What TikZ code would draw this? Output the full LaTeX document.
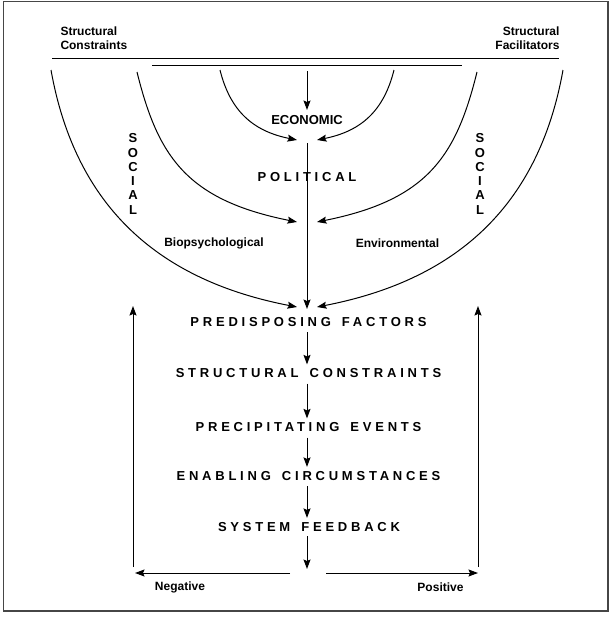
\documentclass[tikz,border=0pt]{standalone}
\usepackage{fontspec}
\setmainfont{Liberation Sans}
\newfontfamily\spacedfont[LetterSpace=29,WordSpace=1.5,BoldFont={Liberation Sans Bold}]{Liberation Sans}
\usetikzlibrary{arrows.meta}
\begin{document}
\begin{tikzpicture}[x=1pt,y=-1pt, line width=1pt,
  arr/.style={-{Stealth[length=9.5pt,width=7pt,inset=1.5pt]}},
  lbl/.style={font=\fontsize{12}{14}\selectfont\bfseries, inner sep=0pt},
  big/.style={font=\fontsize{13}{15}\spacedfont\bfseries, inner sep=0pt},
  eco/.style={font=\fontsize{13}{15}\selectfont\bfseries, inner sep=0pt},
  vert/.style={font=\fontsize{13}{14.3}\selectfont\bfseries, inner sep=0pt, align=center},
  chain/.style={arr, shorten <=5pt, shorten >=4pt}]
\useasboundingbox (0,0) rectangle (613,622);
\draw[gray!55!black, line width=1.4pt] (3.5,1.5) rectangle (608,611);

% top labels and lines
\node[lbl, align=left, anchor=west] (sclab) at (60,38) {Structural\\Constraints};
\node[lbl, align=right, anchor=east] (sflab) at (560,38) {Structural\\Facilitators};
\coordinate (t1) at (52,58);  \coordinate (t2) at (559,58);
\coordinate (u1) at (152,65); \coordinate (u2) at (462,65);
\draw (t1) -- (t2);
\draw (u1) -- (u2);

% center flow
\coordinate (e0) at (307,71);
\coordinate (e1) at (307,110);
\draw[arr] (e0) -- (e1);
\node[eco] (eco) at (307,120) {ECONOMIC};
\coordinate (m0) at (307,143);
\coordinate (m1) at (307,309);
\draw[arr] (m0) -- (m1);
\node[big] (pol) at (307,177) {POLITICAL};

% inner arcs
\coordinate (il0) at (220,70); \coordinate (il1) at (297,140);
\coordinate (ir0) at (394,70); \coordinate (ir1) at (317,140);
\draw[arr] (il0) .. controls (230,110) and (252,131) .. (il1);
\draw[arr] (ir0) .. controls (384,110) and (362,131) .. (ir1);

% middle arcs
\coordinate (ml0) at (137,72); \coordinate (ml1) at (297,222);
\coordinate (mr0) at (477,72); \coordinate (mr1) at (317,222);
\draw[arr] (ml0) .. controls (158,157) and (187,200) .. (ml1);
\draw[arr] (mr0) .. controls (456,157) and (427,200) .. (mr1);

% outer arcs
\coordinate (ol0) at (51,70); \coordinate (ol1) at (297,307);
\coordinate (or0) at (563,70); \coordinate (or1) at (317,307);
\draw[arr] (ol0) .. controls (76,210) and (162,281) .. (ol1);
\draw[arr] (or0) .. controls (538,210) and (452,281) .. (or1);

\node[vert] (socl) at (133,174) {S\\O\\C\\I\\A\\L};
\node[vert] (socr) at (480,174) {S\\O\\C\\I\\A\\L};
\node[lbl] (bio) at (214,243) {Biopsychological};
\node[lbl] (env) at (397.5,243) {Environmental};

% chain
\node[big] (pf) at (308.5,322) {PREDISPOSING FACTORS};
\node[big] (sc) at (308.5,373.5) {STRUCTURAL CONSTRAINTS};
\node[big] (pe) at (308.5,427.5) {PRECIPITATING EVENTS};
\node[big] (ec) at (308.5,476) {ENABLING CIRCUMSTANCES};
\node[big] (sf) at (309,527) {SYSTEM FEEDBACK};
\coordinate (fb) at (307,569);
\draw[chain] (pf.south -| m0) -- (sc.north -| m0);
\draw[chain] (sc.south -| m0) -- (pe.north -| m0);
\draw[chain] (pe.south -| m0) -- (ec.north -| m0);
\draw[chain] (ec.south -| m0) -- (sf.north -| m0);
\draw[arr, shorten <=4pt] (sf.south -| m0) -- (fb);

% feedback loops
\coordinate (nl0) at (290,573); \coordinate (nl1) at (135,573);
\coordinate (pr0) at (326,573); \coordinate (pr1) at (478,573);
\draw[arr] (nl0) -- (nl1);
\draw[arr] (pr0) -- (pr1);
\coordinate (lv0) at (133,567); \coordinate (lv1) at (133,306);
\coordinate (rv0) at (478,567); \coordinate (rv1) at (478,306);
\draw[arr] (lv0) -- (lv1);
\draw[arr] (rv0) -- (rv1);
\node[lbl] (neg) at (180,587) {Negative};
\node[lbl] (posl) at (440.5,587) {Positive};
\end{tikzpicture}
\end{document}
